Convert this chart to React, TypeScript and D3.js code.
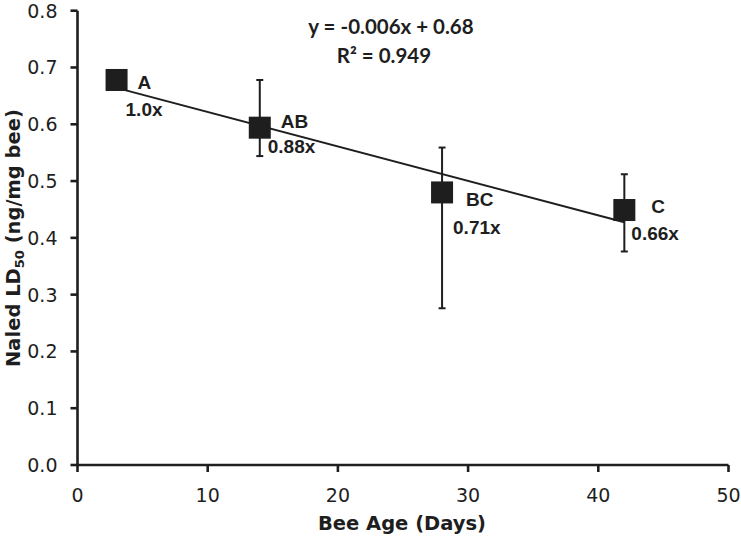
import React from "react";
import * as d3 from "d3";

const ages = [3, 14, 28, 42];
const ld50 = [0.678, 0.594, 0.48, 0.449];
const errUpper = [0.678, 0.678, 0.559, 0.512];
const errLower = [0.678, 0.544, 0.276, 0.376];
const groupLabels = ["A", "AB", "BC", "C"];
const ratioLabels = ["1.0x", "0.88x", "0.71x", "0.66x"];
const xTicks = [0, 10, 20, 30, 40, 50];
const yTicks = [0, 0.1, 0.2, 0.3, 0.4, 0.5, 0.6, 0.7, 0.8];
const equationText = "y = -0.006x + 0.68";
const r2Text = "R² = 0.949";

// label offsets (pixels) relative to point centre
const groupOffsets = [[21, 9], [21, 0], [24, 14], [27, 3]];
const ratioOffsets = [[9, 36], [8, 25], [11, 42], [7, 30]];

const W = 741, H = 539;
const ink = "#1e1e1e";
const tickFont = "'DejaVu Sans', sans-serif";
const eqFont = "Lato, 'DejaVu Sans', sans-serif";
const labelFont = "'Liberation Sans', Arial, sans-serif";

export default function App() {
  const x = d3.scaleLinear().domain([0, 50]).range([77.5, 728.5]);
  const y = d3.scaleLinear().domain([0, 0.8]).range([465, 10.7]);

  // least-squares trendline
  const mx = d3.mean(ages)!;
  const my = d3.mean(ld50)!;
  const sxy = d3.sum(ages.map((a, i) => (a - mx) * (ld50[i] - my)));
  const sxx = d3.sum(ages.map((a) => (a - mx) ** 2));
  const slope = sxy / sxx;
  const intercept = my - slope * mx;
  const x0 = ages[0], x1 = ages[ages.length - 1];
  const line = d3.line<number>().x((d) => x(d)).y((d) => y(slope * d + intercept));

  const sq = 22;

  return (
    <svg width={W} height={H} style={{ position: "absolute", left: 0, top: 0, background: "#fff" }}>
      {/* axes */}
      <line x1={x(0)} x2={x(0)} y1={y(0.8)} y2={y(0) + 1.2} stroke={ink} strokeWidth={2.6} />
      <line x1={x(0) - 1.3} x2={x(50)} y1={y(0)} y2={y(0)} stroke={ink} strokeWidth={2.6} />
      {yTicks.map((t) => (
        <g key={"y" + t}>
          <line x1={x(0) - 7} x2={x(0)} y1={y(t)} y2={y(t)} stroke={ink} strokeWidth={2.6} />
          <text x={x(0) - 20} y={y(t) + 7} textAnchor="end" fontFamily={tickFont} fontSize={19} fill={ink}>
            {t.toFixed(1)}
          </text>
        </g>
      ))}
      {xTicks.map((t) => (
        <g key={"x" + t}>
          <line x1={x(t)} x2={x(t)} y1={y(0)} y2={y(0) + 7} stroke={ink} strokeWidth={2.6} />
          <text x={x(t)} y={y(0) + 37} textAnchor="middle" fontFamily={tickFont} fontSize={19} fill={ink}>
            {t}
          </text>
        </g>
      ))}
      {/* axis titles */}
      <text x={402} y={530} textAnchor="middle" fontFamily={tickFont} fontWeight="bold" fontSize={19.5} fill={ink}>
        Bee Age (Days)
      </text>
      <text transform={`translate(20, 238) rotate(-90)`} textAnchor="middle" fontFamily={tickFont} fontWeight="bold" fontSize={19.5} fill={ink}>
        Naled LD<tspan fontSize={13} dy={4}>50</tspan><tspan dy={-4}> (ng/mg bee)</tspan>
      </text>
      {/* trendline */}
      <path d={line([x0, x1]) || ""} stroke={ink} strokeWidth={2} fill="none" />
      {/* error bars */}
      {ages.map((a, i) => (
        <g key={"e" + i} stroke={ink} strokeWidth={2}>
          <line x1={x(a)} x2={x(a)} y1={y(errUpper[i])} y2={y(errLower[i])} />
          <line x1={x(a) - 3.5} x2={x(a) + 3.5} y1={y(errUpper[i])} y2={y(errUpper[i])} />
          <line x1={x(a) - 3.5} x2={x(a) + 3.5} y1={y(errLower[i])} y2={y(errLower[i])} />
        </g>
      ))}
      {/* points */}
      {ages.map((a, i) => (
        <rect key={"p" + i} x={x(a) - sq / 2} y={y(ld50[i]) - sq / 2} width={sq} height={sq} fill={ink} />
      ))}
      {/* labels */}
      {ages.map((a, i) => (
        <g key={"l" + i} fontFamily={labelFont} fontWeight="bold" fontSize={19} fill={ink}>
          <text x={x(a) + groupOffsets[i][0]} y={y(ld50[i]) + groupOffsets[i][1]}>{groupLabels[i]}</text>
          <text x={x(a) + ratioOffsets[i][0]} y={y(ld50[i]) + ratioOffsets[i][1]}>{ratioLabels[i]}</text>
        </g>
      ))}
      {/* equation */}
      <text x={391} y={34} textAnchor="middle" fontFamily={eqFont} fontWeight="bold" fontSize={20.5} fill={ink}>
        {equationText}
      </text>
      <text x={384} y={63} textAnchor="middle" fontFamily={eqFont} fontWeight="bold" fontSize={20.5} fill={ink}>
        {r2Text}
      </text>
    </svg>
  );
}
